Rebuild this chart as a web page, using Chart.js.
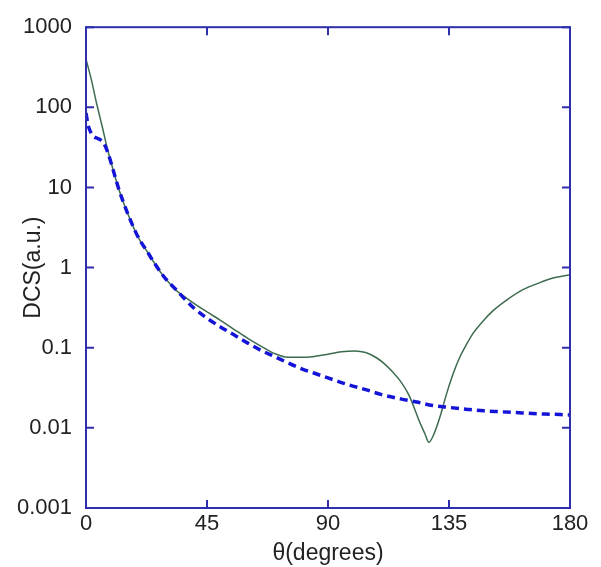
<!DOCTYPE html>
<html>
<head>
<meta charset="utf-8">
<script src="https://cdn.jsdelivr.net/npm/chart.js@4/dist/chart.umd.min.js"></script>
<style>
  body { margin: 0; background: #fff; }
</style>
</head>
<body>
<canvas id="dcsChart" width="601" height="567"></canvas>
<script>
// angles (degrees) and DCS values
const solidAngles = [0, 2, 4, 6, 8, 10, 12, 14, 16, 18, 20, 22.7, 25, 28, 30, 33.8, 36, 40, 45, 50, 55, 60, 65, 70, 75, 80, 85, 90, 95, 100, 104, 108, 111, 114, 117, 120, 122, 124, 126, 127.5, 129, 130.5, 132, 134, 136.5, 139, 141.5, 144, 147.7, 151.4, 156.3, 162.5, 168.8, 173.7, 180];
const solidDcs = [400, 220, 110, 58, 30, 17, 10, 6.4, 4.3, 3.0, 2.2, 1.6, 1.2, 0.85, 0.7, 0.51, 0.45, 0.36, 0.28, 0.22, 0.17, 0.132, 0.105, 0.085, 0.076, 0.076, 0.078, 0.083, 0.089, 0.091, 0.087, 0.075, 0.063, 0.05, 0.038, 0.026, 0.018, 0.012, 0.0085, 0.0066, 0.0078, 0.0105, 0.015, 0.026, 0.047, 0.076, 0.11, 0.152, 0.216, 0.29, 0.39, 0.53, 0.65, 0.74, 0.815];

const dashAngles = [0, 0.8, 2, 3, 5, 6.5, 8, 10, 12, 14, 16, 18, 20, 22.7, 25, 28, 30, 34, 36, 40, 45, 50, 55, 60, 65, 70, 75, 80, 85, 90, 97, 104, 110, 117, 123, 129, 135, 142, 148, 154, 160, 166, 173, 180];
const dashDcs = [85, 60, 47, 43, 40, 36, 28, 17, 10, 6.4, 4.3, 3.0, 2.2, 1.6, 1.2, 0.85, 0.7, 0.51, 0.43, 0.316, 0.234, 0.182, 0.145, 0.115, 0.093, 0.078, 0.065, 0.055, 0.048, 0.042, 0.035, 0.030, 0.026, 0.023, 0.021, 0.019, 0.018, 0.017, 0.0163, 0.0159, 0.0155, 0.0151, 0.0148, 0.0145];

const xTicks = [0, 45, 90, 135, 180];
const yTicks = [1000, 100, 10, 1, 0.1, 0.01, 0.001];
const yTickLabels = ['1000', '100', '10', '1', '0.1', '0.01', '0.001'];

const frameColor = '#2f2fae';
const font = 'Liberation Sans, Arial, sans-serif';

const toPoints = (xs, ys) => xs.map((x, i) => ({x: x, y: ys[i]}));

// box around the plot with inward tick marks on all four sides
const frame = {
    id: 'frame',
    afterDraw(chart) {
        const {ctx, chartArea: a, scales: {x, y}} = chart;
        ctx.save();
        ctx.strokeStyle = frameColor;
        ctx.lineWidth = 2;
        ctx.strokeRect(a.left, a.top, a.right - a.left, a.bottom - a.top);
        ctx.beginPath();
        xTicks.forEach(v => {
            const px = x.getPixelForValue(v);
            ctx.moveTo(px, a.bottom); ctx.lineTo(px, a.bottom - 8);
            ctx.moveTo(px, a.top); ctx.lineTo(px, a.top + 8);
        });
        yTicks.forEach(v => {
            const py = y.getPixelForValue(v);
            ctx.moveTo(a.left, py); ctx.lineTo(a.left + 8, py);
            ctx.moveTo(a.right, py); ctx.lineTo(a.right - 8, py);
        });
        ctx.stroke();
        ctx.restore();
    }
};

new Chart(document.getElementById('dcsChart'), {
    type: 'line',
    data: {
        datasets: [{
            data: toPoints(solidAngles, solidDcs),
            borderColor: '#3d6b4f',
            borderWidth: 1.5,
            pointRadius: 0,
            cubicInterpolationMode: 'monotone',
            order: 1
        }, {
            data: toPoints(dashAngles, dashDcs),
            borderColor: '#1414d8',
            borderWidth: 3.5,
            borderDash: [8, 5],
            pointRadius: 0,
            cubicInterpolationMode: 'monotone',
            order: 0
        }]
    },
    options: {
        responsive: false,
        animation: false,
        layout: { padding: { top: 25, right: 31, left: 0, bottom: 0 } },
        plugins: { legend: { display: false }, tooltip: { enabled: false } },
        scales: {
            x: {
                type: 'linear',
                min: 0,
                max: 180,
                afterFit: s => { s.height = 59; },
                afterBuildTicks: s => { s.ticks = xTicks.map(v => ({value: v})); },
                grid: { display: false, drawTicks: false },
                border: { display: false },
                ticks: { color: '#222', padding: 3, font: { family: font, size: 22 } },
                title: {
                    display: true,
                    text: 'θ(degrees)',
                    color: '#222',
                    padding: { top: 0, bottom: 0 },
                    font: { family: font, size: 23 }
                }
            },
            y: {
                type: 'logarithmic',
                min: 0.001,
                max: 1000,
                afterFit: s => { s.width = 86; },
                afterBuildTicks: s => { s.ticks = yTicks.map(v => ({value: v})); },
                grid: { display: false, drawTicks: false },
                border: { display: false },
                ticks: {
                    color: '#222',
                    padding: 14,
                    autoSkip: false,
                    font: { family: font, size: 22 },
                    callback: (v, i) => yTickLabels[i]
                },
                title: {
                    display: true,
                    text: 'DCS(a.u.)',
                    color: '#222',
                    padding: { top: 20, bottom: 0 },
                    font: { family: font, size: 23 }
                }
            }
        }
    },
    plugins: [frame]
});
</script>
</body>
</html>
